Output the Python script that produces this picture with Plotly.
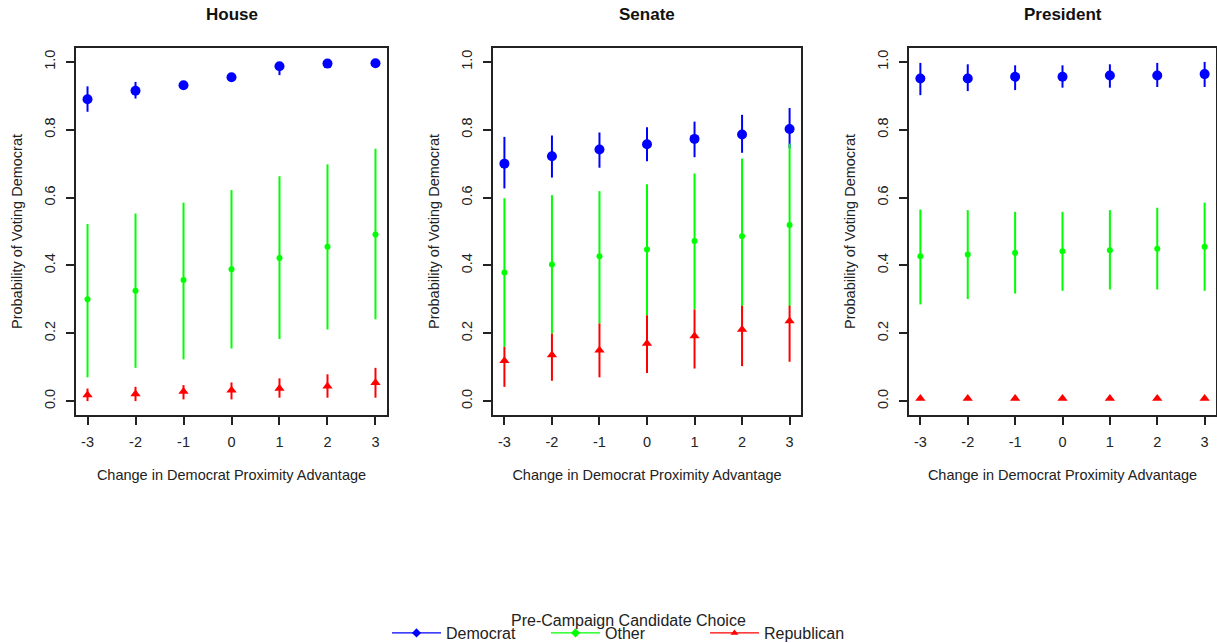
import plotly.graph_objects as go

# ---------------- data ----------------
x_vals = [-3, -2, -1, 0, 1, 2, 3]
panels = ["House", "Senate", "President"]
series_names = ["Democrat", "Other", "Republican"]

# House
house_dem = [0.890, 0.915, 0.931, 0.955, 0.987, 0.995, 0.996]
house_dem_hi = [0.928, 0.941, 0.941, 0.963, 0.997, 0.999, 0.999]
house_dem_lo = [0.853, 0.892, 0.920, 0.947, 0.961, 0.990, 0.992]
house_oth = [0.300, 0.325, 0.357, 0.389, 0.422, 0.455, 0.491]
house_oth_hi = [0.522, 0.553, 0.585, 0.622, 0.663, 0.698, 0.744]
house_oth_lo = [0.070, 0.098, 0.123, 0.155, 0.183, 0.211, 0.241]
house_rep = [0.018, 0.021, 0.028, 0.032, 0.037, 0.044, 0.054]
house_rep_hi = [0.037, 0.042, 0.047, 0.055, 0.067, 0.079, 0.098]
house_rep_lo = [0.000, 0.000, 0.005, 0.005, 0.010, 0.010, 0.010]

# Senate
senate_dem = [0.700, 0.722, 0.742, 0.757, 0.773, 0.786, 0.802]
senate_dem_hi = [0.779, 0.783, 0.792, 0.807, 0.824, 0.844, 0.864]
senate_dem_lo = [0.627, 0.659, 0.688, 0.707, 0.719, 0.732, 0.745]
senate_oth = [0.379, 0.403, 0.427, 0.447, 0.472, 0.486, 0.519]
senate_oth_hi = [0.598, 0.607, 0.619, 0.639, 0.671, 0.715, 0.759]
senate_oth_lo = [0.160, 0.199, 0.229, 0.253, 0.270, 0.260, 0.279]
senate_rep = [0.119, 0.136, 0.150, 0.170, 0.192, 0.211, 0.236]
senate_rep_hi = [0.160, 0.199, 0.229, 0.253, 0.270, 0.281, 0.281]
senate_rep_lo = [0.042, 0.060, 0.070, 0.083, 0.096, 0.103, 0.116]

# President
pres_dem = [0.951, 0.951, 0.956, 0.956, 0.960, 0.960, 0.964]
pres_dem_hi = [0.997, 0.993, 0.990, 0.990, 0.993, 0.997, 1.000]
pres_dem_lo = [0.902, 0.914, 0.917, 0.924, 0.924, 0.926, 0.926]
pres_oth = [0.427, 0.432, 0.437, 0.442, 0.445, 0.449, 0.455]
pres_oth_hi = [0.565, 0.563, 0.558, 0.558, 0.563, 0.570, 0.585]
pres_oth_lo = [0.285, 0.301, 0.317, 0.325, 0.329, 0.329, 0.325]
pres_rep = [0.008, 0.008, 0.008, 0.008, 0.008, 0.008, 0.008]
pres_rep_hi = [0.013, 0.013, 0.013, 0.013, 0.013, 0.013, 0.013]
pres_rep_lo = [0.004, 0.004, 0.004, 0.004, 0.004, 0.004, 0.004]

y_ticks = [0.0, 0.2, 0.4, 0.6, 0.8, 1.0]
y_tick_text = ["0.0", "0.2", "0.4", "0.6", "0.8", "1.0"]
x_title = "Change in Democrat Proximity Advantage"
y_title = "Probability of Voting Democrat"
legend_title = "Pre-Campaign Candidate Choice"

panel_data = {
    "House": [(house_dem, house_dem_hi, house_dem_lo),
              (house_oth, house_oth_hi, house_oth_lo),
              (house_rep, house_rep_hi, house_rep_lo)],
    "Senate": [(senate_dem, senate_dem_hi, senate_dem_lo),
               (senate_oth, senate_oth_hi, senate_oth_lo),
               (senate_rep, senate_rep_hi, senate_rep_lo)],
    "President": [(pres_dem, pres_dem_hi, pres_dem_lo),
                  (pres_oth, pres_oth_hi, pres_oth_lo),
                  (pres_rep, pres_rep_hi, pres_rep_lo)],
}

# ---------------- style ----------------
W, H = 1217, 643          # reference frame used for positioning (fractions)
FIG_H = 650               # rendered height
colors = {"Democrat": "#0000FF", "Other": "#00FF00", "Republican": "#FF0000"}
symbols = {"Democrat": "circle", "Other": "circle", "Republican": "triangle-up"}
legend_symbols = {"Democrat": "diamond", "Other": "diamond", "Republican": "triangle-up"}
sizes = {"Democrat": 10, "Other": 6, "Republican": 9}
FONT = "Liberation Sans, Arial, sans-serif"
TXT = "#222222"

# panel boxes in pixels (left, right)
box_x = [(76, 387), (493, 801), (909, 1216)]
box_top, box_bot = 48, 415

fig = go.Figure()

for i, p in enumerate(panels):
    ax = "" if i == 0 else str(i + 1)
    for name, (v, hi, lo) in zip(series_names, panel_data[p]):
        plus = [h - m for h, m in zip(hi, v)]
        minus = [m - l for m, l in zip(v, lo)]
        fig.add_trace(go.Scatter(
            x=x_vals, y=v, mode="markers",
            xaxis="x" + ax, yaxis="y" + ax,
            marker=dict(color=colors[name], symbol=symbols[name], size=sizes[name],
                        line=dict(width=0)),
            error_y=dict(type="data", array=plus, arrayminus=minus, symmetric=False,
                         color=colors[name], thickness=2, width=0),
            showlegend=False, name=name,
        ))

# legend keys (line + marker, as in the original legend)
for name in series_names:
    fig.add_trace(go.Scatter(
        x=[None], y=[None], mode="lines+markers", name=name,
        line=dict(color=colors[name], width=1.2),
        marker=dict(color=colors[name], symbol=legend_symbols[name], size=7, line=dict(width=0)),
        showlegend=True,
    ))

layout = dict(
    width=W, height=FIG_H,
    margin=dict(l=0, r=0, t=0, b=0),
    paper_bgcolor="white", plot_bgcolor="white",
    font=dict(family=FONT, size=14, color=TXT),
    showlegend=True,
    legend=dict(orientation="h", x=387 / W, xanchor="left", y=1 - 633 / H, yanchor="middle",
                font=dict(size=16, color=TXT), itemwidth=49, entrywidth=95,
                bgcolor="rgba(0,0,0,0)", borderwidth=0, tracegroupgap=0),
    annotations=[],
)

for i, p in enumerate(panels):
    ax = "" if i == 0 else str(i + 1)
    l, r = box_x[i]
    layout["xaxis" + ax] = dict(
        domain=[l / W, r / W], range=[-3.24, 3.24], anchor="y" + ax,
        tickmode="array", tickvals=x_vals, ticktext=[str(v) for v in x_vals],
        ticks="outside", ticklen=8, tickwidth=1.5, tickcolor=TXT,
        showline=True, linecolor=TXT, linewidth=1.5, mirror=True,
        showgrid=False, zeroline=False, ticklabelstandoff=5,
        tickfont=dict(size=14.5), title=dict(text=x_title, font=dict(size=14.5), standoff=21),
    )
    layout["yaxis" + ax] = dict(
        domain=[1 - box_bot / H, 1 - box_top / H], range=[-0.041, 1.041], anchor="x" + ax,
        tickmode="array", tickvals=y_ticks, ticktext=y_tick_text, tickangle=-90,
        ticks="outside", ticklen=8, tickwidth=1.5, tickcolor=TXT,
        showline=True, linecolor=TXT, linewidth=1.5, mirror=True,
        showgrid=False, zeroline=False, ticklabelstandoff=5,
        tickfont=dict(size=14.5), title=dict(text=y_title, font=dict(size=14.5), standoff=16),
    )
    layout["annotations"].append(dict(
        text="<b>" + p + "</b>", x=(l + r) / 2 / W, y=1 - 15 / H, xref="paper", yref="paper",
        showarrow=False, font=dict(size=17, color="#111111"), xanchor="center", yanchor="middle",
    ))

layout["annotations"].append(dict(
    text=legend_title, x=628 / W, y=1 - 620 / H, xref="paper", yref="paper",
    showarrow=False, font=dict(size=16, color=TXT), xanchor="center", yanchor="middle",
))

fig.update_layout(**layout)
fig.write_html(
    "out.html",
    config={"displayModeBar": False},
    post_script=(
        "document.documentElement.style.margin='0';"
        "document.body.style.margin='0';"
        "document.body.style.overflow='hidden';"
        "var gd=document.getElementById('{plot_id}');"
        "gd.style.position='fixed';gd.style.top='0';gd.style.left='0';"
    ),
)
